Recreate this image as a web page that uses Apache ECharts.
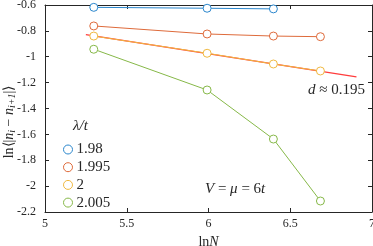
<!DOCTYPE html>
<html><head><meta charset="utf-8">
<script src="https://cdn.jsdelivr.net/npm/echarts@6/dist/echarts.min.js"></script>
<style>html,body{margin:0;padding:0;background:#fff}#c{width:373px;height:246px}</style>
</head><body><div id="c"></div>
<script>
const lnN = [Math.log(200), Math.log(400), Math.log(600), Math.log(800)];
const seriesNames = ['1.98', '1.995', '2', '2.005'];
const v198 = [-0.618, -0.625, -0.630];
const v1995 = [-0.762, -0.824, -0.840, -0.845];
const v2 = [-0.840, -0.973, -1.056, -1.110];
const v2005 = [-0.942, -1.257, -1.636, -2.115];
const fitX = [5.25, 6.905];
const fitY = [-0.829, -1.155];
const colors = ['#2a86cc', '#de6a3a', '#efb840', '#86b848'];
const FONT = 'Liberation Serif';

const values = [v198, v1995, v2, v2005];
const chart = echarts.init(document.getElementById('c'), null, {renderer: 'canvas'});
const fmt = v => String(+(+v).toFixed(1));
const series = values.map((vals, i) => ({
  name: seriesNames[i], type: 'line', data: vals.map((v, j) => [lnN[j], v]),
  symbol: 'circle', symbolSize: 8, showSymbol: true,
  lineStyle: {width: 1, color: colors[i]},
  itemStyle: {color: '#fff', borderColor: colors[i], borderWidth: 1},
  z: 3
}));
series.push({
  name: 'fit', type: 'line', data: fitX.map((x, j) => [x, fitY[j]]), symbol: 'none',
  lineStyle: {width: 1.2, color: '#ff3c3c'}, z: 2
});
const axisCol = '#262626';
const rich = {
  a: {fontFamily: FONT, fontSize: 14, fill: axisCol},
  b: {fontFamily: FONT, fontSize: 14, fontStyle: 'italic', fill: axisCol},
  s: {fontFamily: FONT, fontSize: 10, fontStyle: 'italic', fill: axisCol, padding: [6, 0, 0, 0]}
};
chart.setOption({
  animation: false,
  grid: {left: 45, right: 1, top: 5, bottom: 34, outerBoundsMode: 'none', containLabel: false},
  xAxis: [{
    type: 'value', min: 5, max: 7, interval: 0.5,
    axisLine: {lineStyle: {color: axisCol, width: 1}},
    axisTick: {inside: true, length: 4, lineStyle: {color: axisCol}},
    axisLabel: {color: axisCol, fontFamily: FONT, fontSize: 12, margin: 6, formatter: fmt},
    splitLine: {show: false},
    name: '{a|ln}{b|N}', nameLocation: 'middle', nameGap: 22,
    nameTextStyle: {rich: {a: {fontFamily: FONT, fontSize: 14, color: axisCol}, b: {fontFamily: FONT, fontSize: 14, fontStyle: 'italic', color: axisCol}}}
  }, {
    type: 'value', position: 'top', min: 5, max: 7, interval: 0.5,
    axisLine: {show: true, onZero: false, lineStyle: {color: axisCol}},
    axisTick: {inside: true, length: 4, lineStyle: {color: axisCol}},
    axisLabel: {show: false}, splitLine: {show: false}
  }],
  yAxis: [{
    type: 'value', min: -2.2, max: -0.6, interval: 0.2,
    axisLine: {show: true, onZero: false, lineStyle: {color: axisCol}},
    axisTick: {inside: true, length: 4, lineStyle: {color: axisCol}},
    axisLabel: {color: axisCol, fontFamily: FONT, fontSize: 12, margin: 9, formatter: fmt},
    splitLine: {show: false}
  }, {
    type: 'value', position: 'right', min: -2.2, max: -0.6, interval: 0.2,
    axisLine: {show: true, onZero: false, lineStyle: {color: axisCol}},
    axisTick: {inside: true, length: 4, lineStyle: {color: axisCol}},
    axisLabel: {show: false}, splitLine: {show: false}
  }],
  legend: {
    data: seriesNames.map(n => ({name: n, icon: 'circle'})),
    orient: 'vertical', left: 58, top: 137, itemWidth: 9, itemHeight: 9, itemGap: 2.7,
    itemStyle: {color: '#fff', borderWidth: 1},
    textStyle: {fontFamily: FONT, fontSize: 15, lineHeight: 15, color: axisCol, padding: [0, 0, 0, -1]}
  },
  graphic: [
    {type: 'text', x: 9, y: 122, rotation: Math.PI / 2,
     style: {rich: rich, text: '{a|ln⟨|}{b|n}{s|i}{a| − }{b|n}{s|i+1}{a||⟩}', align: 'center', verticalAlign: 'middle'}},
    {type: 'text', left: 73, top: 119, style: {text: 'λ/t', font: 'italic 15px "Liberation Serif"', fill: axisCol}},
    {type: 'text', left: 308, top: 83, style: {rich: {i: {fontFamily: FONT, fontStyle: 'italic', fontSize: 15, fill: axisCol}, r: {fontFamily: FONT, fontSize: 15, fill: axisCol}}, text: '{i|d}{r| ≈ 0.195}'}},
    {type: 'text', left: 205, top: 182, style: {rich: {i: {fontFamily: FONT, fontStyle: 'italic', fontSize: 15, fill: axisCol}, r: {fontFamily: FONT, fontSize: 15, fill: axisCol}}, text: '{i|V}{r| = }{i|μ}{r| = 6}{i|t}'}}
  ],
  series: series
});
</script></body></html>
